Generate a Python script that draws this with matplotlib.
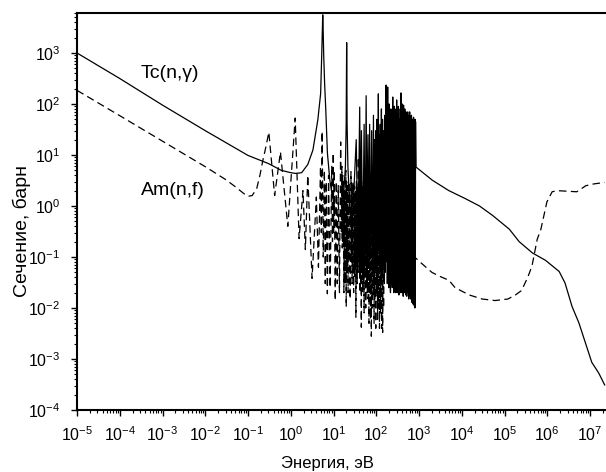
import numpy as np
import matplotlib
matplotlib.use("Agg")
import matplotlib.pyplot as plt
from matplotlib.ticker import LogLocator, LogFormatterSciNotation, NullFormatter

# ---------------- data ----------------
# Tc(n,gamma): thermal part + two large resonances (5.6 eV, 20.3 eV)
tc_low_E = [1e-5, 1e-4, 1e-3, 1e-2, 0.1, 0.3, 0.6, 1.0, 1.3, 1.8, 2.5, 3.3, 4.3,
            5.0, 5.3, 5.45, 5.6, 5.75, 5.9, 6.2, 6.6, 7.2, 8.2, 9.5, 11, 13, 15.5,
            17.5, 19.0, 19.8, 20.1, 20.3, 20.5, 20.8, 21.7, 24.0, 27.0]
tc_low_s = [1000, 316, 95, 30, 9.8, 6.8, 5.0, 4.5, 4.35, 4.5, 6.5, 12.5, 49,
            160, 900, 2500, 5600, 2500, 900, 250, 76, 11, 3.2, 1.5, 0.8, 0.6, 0.8,
            2.0, 6.0, 40, 300, 1600, 300, 40, 6.0, 1.0, 0.3]
# resolved resonances 30-830 eV
tc_res_E = [34, 41, 45, 52, 58, 64, 70, 78, 86, 92,
            98, 104, 112, 118, 124, 132, 140, 150, 158, 165,
            170, 178, 185, 193, 200, 210, 220, 231, 243, 252,
            264, 276, 290, 300, 314, 330, 346, 364, 380, 393,
            406, 420, 435, 450, 465, 480, 495, 510, 525, 545,
            565, 585, 605, 625, 645, 665, 685, 705, 725, 745,
            765, 790, 810, 830]
tc_res_peak = [20, 87, 30, 40, 145, 25, 40, 30, 60, 20,
               30, 50, 158, 25, 40, 80, 50, 30, 60, 40,
               235, 80, 215, 60, 100, 50, 80, 70, 137, 60,
               90, 50, 80, 120, 60, 90, 50, 80, 165, 70,
               100, 60, 95, 70, 80, 60, 70, 55, 65, 70,
               50, 60, 70, 45, 55, 60, 50, 50, 45, 55,
               50, 48, 50, 45]
tc_res_valley = [0.15, 0.3, 0.1, 0.08, 0.2, 0.06, 0.1, 0.05, 0.15, 0.07,
                 0.1, 0.04, 0.15, 0.05, 0.08, 0.04, 0.06, 0.03, 0.05, 0.08,
                 0.3, 0.03, 0.2, 0.025, 0.04, 0.02, 0.03, 0.025, 0.05, 0.02,
                 0.03, 0.02, 0.04, 0.02, 0.025, 0.018, 0.03, 0.02, 0.05, 0.02,
                 0.025, 0.017, 0.03, 0.02, 0.025, 0.018, 0.02, 0.017, 0.025, 0.02,
                 0.015, 0.02, 0.017, 0.015, 0.02, 0.013, 0.015, 0.012, 0.014, 0.012,
                 0.011, 0.01, 0.012]
# smooth high-energy part
tc_fast_E = [850, 2050, 5000, 1.2e4, 2.6e4, 5.3e4, 1.3e5, 2.2e5, 4.5e5, 9.1e5,
             1.9e6, 2.6e6, 3.8e6, 5.5e6, 7.9e6, 1.1e7, 1.6e7, 2.2e7]
tc_fast_s = [5.8, 3.2, 2.0, 1.4, 1.0, 0.65, 0.35, 0.2, 0.12, 0.086,
             0.052, 0.031, 0.0107, 0.0051, 0.0020, 0.00086, 0.00053, 0.00031]

# Am(n,f): thermal part
am_low_E = [1e-5, 1e-4, 1e-3, 1e-2, 0.03, 0.05, 0.08, 0.1, 0.125, 0.16, 0.19, 0.22, 0.26]
am_low_s = [185, 59, 18.7, 5.9, 3.3, 2.4, 1.75, 1.55, 1.6, 2.2, 4.0, 7.5, 14]
# resolved resonances 0.3-150 eV
am_res_E = [0.307, 0.574, 1.27, 1.93, 2.5, 3.97, 4.97, 5.42, 6.12, 6.74,
            7.66, 9.1, 9.85, 10.4, 11.6, 12.9, 14.7, 15.7, 16.4, 16.9,
            18.1, 19.4, 20.3, 21.1, 22.8, 23.4, 25.6, 26.6, 27.8, 28.8,
            30.3, 31.6, 32.6, 34.2, 35.0, 36.6, 38.0, 39.6, 41.0, 42.6,
            44.0, 45.5, 47.0, 49.0, 51.0, 53.0, 55.5, 58.0, 60.5, 63.0,
            66.0, 69.0, 72.0, 75.0, 78.5, 83.0, 87.0, 91.0, 95.0, 100,
            105, 110, 116, 122, 130, 137, 145, 152]
am_res_peak = [28, 11.5, 53, 2.0, 4.0, 1.5, 6, 29, 5, 3,
               4, 6, 11, 5, 3, 2.5, 18, 6, 4, 3,
               2, 5, 3, 2.5, 3, 2, 4.7, 3, 2, 3,
               2.5, 1.8, 2, 3, 1.5, 2.5, 9, 3, 8, 2.5,
               2, 3, 1.5, 2.5, 2, 1.5, 3, 1.2, 2, 5.8,
               1.5, 1.2, 2, 1, 1.5, 2.4, 1, 1.2, 0.8, 1.55,
               0.7, 1.0, 0.6, 0.9, 1.3, 0.6, 0.8, 0.5]
am_res_valley = [1.6, 0.4, 0.23, 0.14, 0.038, 0.063, 0.3, 0.1, 0.03, 0.019,
                 0.025, 0.2, 0.3, 0.014, 0.03, 0.02, 0.3, 0.15, 0.2, 0.02,
                 0.03, 0.0105, 0.05, 0.02, 0.1, 0.015, 0.08, 0.03, 0.05, 0.02,
                 0.04, 0.06, 0.0066, 0.08, 0.03, 0.05, 0.1, 0.05, 0.02, 0.03,
                 0.0042, 0.05, 0.02, 0.03, 0.008, 0.04, 0.01, 0.03, 0.02, 0.015,
                 0.005, 0.02, 0.006, 0.0028, 0.01, 0.02, 0.005, 0.015, 0.004, 0.02,
                 0.006, 0.01, 0.004, 0.008, 0.004, 0.0033, 0.01]
# unresolved / fast part
am_fast_E = [165, 250, 400, 700, 1000, 2000, 3000, 5000, 7000, 1.5e4, 3e4, 6e4,
             1.2e5, 1.8e5, 2.5e5, 3.5e5, 4.4e5, 5.8e5, 7.1e5, 9.8e5, 1.3e6, 1.7e6,
             3e6, 4.9e6, 8e6, 1.2e7, 2.2e7]
am_fast_s = [0.3, 0.22, 0.15, 0.11, 0.083, 0.05, 0.042, 0.035, 0.025, 0.018, 0.015, 0.014,
             0.015, 0.018, 0.022, 0.04, 0.067, 0.22, 0.35, 1.2, 1.9, 2.0,
             1.95, 1.9, 2.5, 2.7, 2.9]

x_ticks = [1e-5, 1e-4, 1e-3, 1e-2, 1e-1, 1e0, 1e1, 1e2, 1e3, 1e4, 1e5, 1e6, 1e7]
y_ticks = [1e-4, 1e-3, 1e-2, 1e-1, 1e0, 1e1, 1e2, 1e3]


def build(low_E, low_s, res_E, res_peak, res_valley, fast_E, fast_s):
    E = list(low_E)
    s = list(low_s)
    for i, (e, p) in enumerate(zip(res_E, res_peak)):
        E.append(e)
        s.append(p)
        if i < len(res_valley) and i + 1 < len(res_E):
            E.append(np.sqrt(e * res_E[i + 1]))
            s.append(res_valley[i])
    E += list(fast_E)
    s += list(fast_s)
    return np.array(E), np.array(s)


tc_E, tc_s = build(tc_low_E, tc_low_s, tc_res_E, tc_res_peak, tc_res_valley,
                   tc_fast_E, tc_fast_s)
am_E, am_s = build(am_low_E, am_low_s, am_res_E, am_res_peak, am_res_valley,
                   am_fast_E, am_fast_s)

# ---------------- figure ----------------
plt.rcParams['font.family'] = ['Liberation Sans Narrow', 'Liberation Sans', 'DejaVu Sans']
REG = ['Liberation Sans', 'DejaVu Sans']

W, H = 606, 472
fig = plt.figure(figsize=(W / 100, H / 100), dpi=100)
ax = fig.add_axes([77 / W, (H - 410) / H, (W - 77) / W, (410 - 13) / H])

ax.plot(am_E, am_s, color='black', lw=0.9, dashes=(6, 3.5))
ax.plot(tc_E, tc_s, color='black', lw=0.9)

ax.set_xscale('log')
ax.set_yscale('log')
ax.set_xlim(1e-5, 10 ** 7.374)
ax.set_ylim(1e-4, 10 ** 3.784)

ax.set_xticks(x_ticks)
ax.set_yticks(y_ticks)
ax.xaxis.set_major_formatter(LogFormatterSciNotation())
ax.yaxis.set_major_formatter(LogFormatterSciNotation())
ax.xaxis.set_minor_locator(LogLocator(base=10, subs=np.arange(2, 10), numticks=100))
ax.yaxis.set_minor_locator(LogLocator(base=10, subs=np.arange(2, 10), numticks=100))
ax.xaxis.set_minor_formatter(NullFormatter())
ax.yaxis.set_minor_formatter(NullFormatter())

ax.tick_params(which='major', direction='out', length=4, width=1.0, labelsize=11.5,
               colors='black')
ax.tick_params(axis='x', which='major', pad=7)
ax.tick_params(axis='y', which='major', pad=8)
ax.tick_params(which='minor', direction='out', length=2.3, width=0.8)

for sp in ['left', 'bottom', 'top']:
    ax.spines[sp].set_linewidth(1.5)
ax.spines['right'].set_visible(False)

ax.set_xlabel('Энергия, эВ', fontsize=12, family=REG)
ax.xaxis.set_label_coords(0.4735, -0.136)
ax.xaxis.label.set_va('center')
ax.set_ylabel('Сечение, барн', fontsize=14, family=REG)
ax.yaxis.set_label_coords(-0.104, 0.451)
ax.yaxis.label.set_va('center')

ax.text(1.48e-3, 398, 'Tc(n,γ)', fontsize=14, family=REG, ha='center', va='center')
ax.text(1.79e-3, 1.97, 'Am(n,f)', fontsize=14, family=REG, ha='center', va='center')

fig.savefig('out.png', dpi=100)
